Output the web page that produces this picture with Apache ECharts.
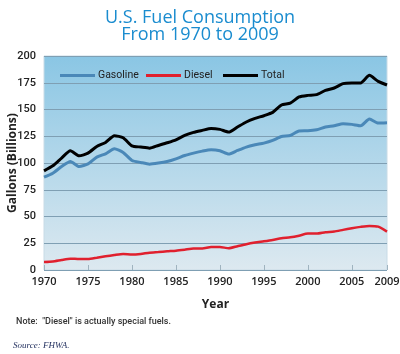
<!DOCTYPE html>
<html>
<head>
<meta charset="utf-8">
<script src="https://cdn.jsdelivr.net/npm/echarts@6/dist/echarts.min.js"></script>
<style>
  html, body { margin: 0; padding: 0; background: #fff; }
  #chart { width: 400px; height: 354px; }
</style>
</head>
<body>
<div id="chart"></div>
<script>
// values (billions of gallons)
const years = [1970, 1971, 1972, 1973, 1974, 1975, 1976, 1977, 1978, 1979,
  1980, 1981, 1982, 1983, 1984, 1985, 1986, 1987, 1988, 1989,
  1990, 1991, 1992, 1993, 1994, 1995, 1996, 1997, 1998, 1999,
  2000, 2001, 2002, 2003, 2004, 2005, 2006, 2007, 2008, 2009]
const gasoline = [86.8, 90.5, 96.7, 101.4, 96.7, 99.2, 105.5, 108.6, 113.3, 109.9,
  102.4, 100.5, 98.9, 99.9, 101.4, 103.9, 107, 109.2, 111.1, 112.4,
  111.4, 108.3, 111.7, 114.9, 117, 118.6, 121.1, 124.8, 125.7, 129.9,
  130.1, 131.1, 133.6, 134.8, 136.7, 136.1, 134.8, 141.1, 137.3, 137.6]
const diesel = [7.5, 8, 9.4, 10.6, 10.2, 10.3, 11.5, 12.8, 14, 15,
  14.4, 15, 16.2, 16.8, 17.5, 18.1, 19, 20, 20, 21.5,
  21.5, 20.3, 22.2, 24.1, 25.6, 26.8, 28.1, 29.7, 30.6, 32.1,
  34, 34, 35.3, 35.9, 37.5, 39, 40.3, 41.2, 40.5, 35.9]
const total = [92.7, 97.4, 104.6, 111.4, 106.7, 109.2, 115.5, 119.2, 125.5, 123.6,
  116, 114.9, 113.9, 116.4, 118.9, 121.7, 125.8, 128.6, 130.5, 132.3,
  131.4, 128.9, 133.6, 138.3, 141.7, 144.2, 147.3, 154.2, 156, 161.7,
  163.2, 163.9, 167.9, 170.1, 174.2, 174.8, 174.8, 181.9, 176.3, 172.9]

const seriesNames = ['Gasoline', 'Diesel', 'Total']

const pairs = arr => years.map((y, i) => [y, arr[i]])
const font = 'Open Sans'

// one legend per item so each key sits where it does in the picture
const legendLeft = [55, 141, 218]
const legends = seriesNames.map((name, i) => ({
  left: legendLeft[i],
  top: 65,
  icon: 'rect',
  itemWidth: 35,
  itemHeight: 3,
  textStyle: { color: '#222', fontFamily: 'Roboto', fontSize: 10.5, padding: [0, 0, 0, -2] },
  data: [name]
}))

const chart = echarts.init(document.getElementById('chart'))
chart.setOption({
  animation: false,
  title: [
    {
      text: 'U.S. Fuel Consumption\nFrom 1970 to 2009',
      left: 'center',
      top: 4,
      textStyle: { color: '#1a8ccf', fontFamily: font, fontWeight: 'normal', fontSize: 18, lineHeight: 17 }
    },
    {
      text: 'Note:  "Diesel" is actually special fuels.',
      left: 11,
      top: 312,
      textStyle: { color: '#333', fontFamily: 'Roboto', fontWeight: 500, fontSize: 9 }
    },
    {
      text: 'Source: FHWA.',
      left: 8,
      top: 336,
      textStyle: { color: '#1c2a5a', fontFamily: 'Liberation Serif', fontStyle: 'italic', fontWeight: 'normal', fontSize: 9 }
    }
  ],
  legend: legends,
  grid: {
    left: 44,
    right: 13,
    top: 56,
    bottom: 84,
    outerBoundsMode: 'none',
    show: true,
    borderColor: '#c8dbe6',
    borderWidth: 1,
    backgroundColor: {
      type: 'linear', x: 0, y: 0, x2: 0, y2: 1,
      colorStops: [
        { offset: 0, color: '#8ac6e4' },
        { offset: 1, color: '#dde9f0' }
      ]
    }
  },
  xAxis: {
    type: 'value',
    min: 1970,
    max: 2009,
    interval: 5,
    name: 'Year',
    nameLocation: 'middle',
    nameGap: 29,
    nameMoveOverlap: false,
    nameTextStyle: { color: '#222', fontFamily: font, fontWeight: 'bold', fontSize: 12 },
    axisLine: { show: false },
    axisTick: { show: true, inside: true, length: 5, lineStyle: { color: '#9fb3bf' } },
    splitLine: { show: false },
    axisLabel: {
      showMaxLabel: true,
      margin: 6,
      color: '#222',
      fontFamily: font,
      fontWeight: 600,
      fontSize: 11,
      formatter: v => String(v)
    }
  },
  yAxis: {
    type: 'value',
    min: 0,
    max: 200,
    interval: 25,
    name: 'Gallons (Billions)',
    nameLocation: 'middle',
    nameRotate: 90,
    nameGap: 25,
    nameMoveOverlap: false,
    nameTextStyle: { color: '#222', fontFamily: font, fontWeight: 'bold', fontSize: 12 },
    axisLine: { show: false },
    axisTick: { show: false },
    splitLine: { lineStyle: { color: '#7f9fb3', width: 1 } },
    axisLabel: { margin: 8, color: '#222', fontFamily: 'Roboto', fontWeight: 500, fontSize: 11 }
  },
  series: [
    {
      name: seriesNames[0],
      type: 'line',
      data: pairs(gasoline),
      showSymbol: false,
      smooth: 0.2,
      color: '#4a88b8',
      lineStyle: { color: '#4a88b8', width: 3 }
    },
    {
      name: seriesNames[1],
      type: 'line',
      data: pairs(diesel),
      showSymbol: false,
      smooth: 0.2,
      color: '#e0202e',
      lineStyle: { color: '#e0202e', width: 2.5 }
    },
    {
      name: seriesNames[2],
      type: 'line',
      data: pairs(total),
      showSymbol: false,
      smooth: 0.2,
      color: '#000',
      lineStyle: { color: '#000', width: 3 }
    }
  ]
})
</script>
</body>
</html>
